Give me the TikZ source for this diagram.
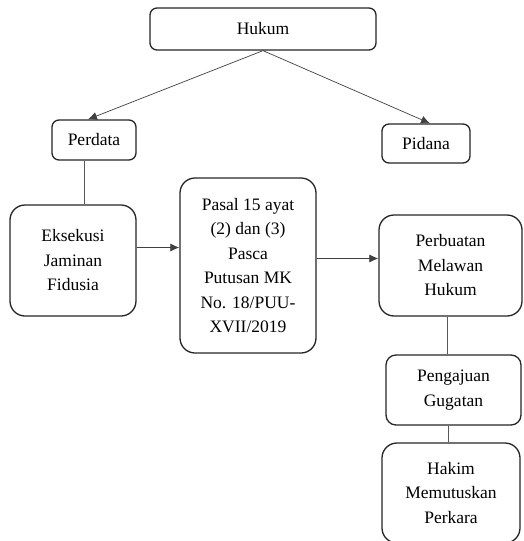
\documentclass[tikz,border=0pt]{standalone}
\usepackage{fontspec}
\setmainfont{Liberation Serif}
\usetikzlibrary{arrows.meta, positioning, calc}

\begin{document}
\begin{tikzpicture}[
    x=1pt, y=-1pt,
    font=\fontsize{17.5}{24.5}\selectfont,
    box/.style={draw, rectangle, rounded corners=7pt, align=center, fill=white, draw=black!85, line width=1.3pt, inner sep=2pt},
    smallbox/.style={box, minimum width=86pt, minimum height=40pt},
    bigbox/.style={box, rounded corners=15pt},
    arrow/.style={-{Latex[length=9pt,width=8pt]}, line width=0.7pt, draw=black!75},
    link/.style={line width=0.7pt, draw=black!65}
]
\useasboundingbox (0,0) rectangle (524,541);

% Top level
\node[box, minimum width=226pt, minimum height=42pt] (hukum) at (263,29) {Hukum};
\node[smallbox, minimum width=84pt] (perdata) at (94,140) {Perdata};
\node[smallbox, minimum width=88pt, minimum height=39pt] (pidana) at (426,143.5) {Pidana};

% Middle row
\node[bigbox, minimum width=126pt, minimum height=111pt] (eksekusi) at (73,260.5) {Eksekusi\\Jaminan\\Fidusia};
\node[bigbox, minimum width=136pt, minimum height=175pt] (pasal) at (248,265.5) {Pasal 15 ayat\\(2) dan (3)\\Pasca\\Putusan MK\\No. 18/PUU-\\XVII/2019};
\node[bigbox, minimum width=143pt, minimum height=101pt] (perbuatan) at (450.5,265.5) {Perbuatan\\Melawan\\Hukum};

% Right column
\node[box, rounded corners=10pt, minimum width=135pt, minimum height=70pt] (pengajuan) at (453.5,390) {Pengajuan\\Gugatan};
\node[bigbox, minimum width=138pt, minimum height=100pt] (hakim) at (451,493) {Hakim\\Memutuskan\\Perkara};

% Connections
\draw[arrow] (hukum.south) -- ([xshift=-6pt]perdata.north);
\draw[arrow] (hukum.south) -- ([xshift=4pt]pidana.north);
\draw[link] ([xshift=-10pt]perdata.south) -- ([xshift=-10pt]perdata.south |- eksekusi.north);
\draw[arrow] ([yshift=13pt]eksekusi.east) -- ([yshift=13pt]eksekusi.east -| pasal.west);
\draw[arrow] ([yshift=7pt]pasal.east) -- ([yshift=7pt]pasal.east -| perbuatan.west);
\draw[link] ([xshift=-3pt]perbuatan.south) -- ([xshift=-3pt]perbuatan.south |- pengajuan.north);
\draw[link] ([xshift=-5pt]pengajuan.south) -- ([xshift=-5pt]pengajuan.south |- hakim.north);

\end{tikzpicture}
\end{document}
